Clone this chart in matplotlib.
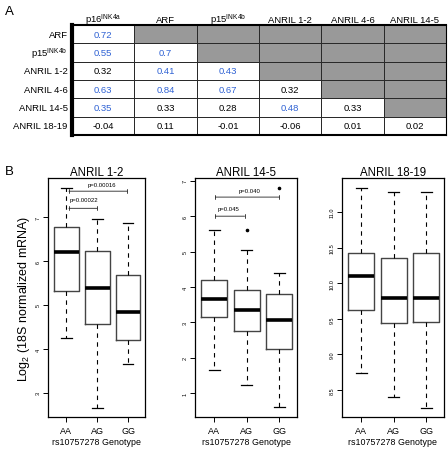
import matplotlib
matplotlib.use("Agg")
import matplotlib.pyplot as plt
import numpy as np
from matplotlib.colors import ListedColormap

plt.rcParams['font.family'] = ['Liberation Sans', 'DejaVu Sans']
plt.rcParams['mathtext.fontset'] = 'custom'
plt.rcParams['mathtext.rm'] = 'Liberation Sans'
plt.rcParams['mathtext.it'] = 'Liberation Sans'

# ---------------- Panel A data ----------------
col_labels = [r'p16$^{\mathrm{INK4a}}$', 'ARF', r'p15$^{\mathrm{INK4b}}$',
              'ANRIL 1-2', 'ANRIL 4-6', 'ANRIL 14-5']
row_labels = ['ARF', r'p15$^{\mathrm{INK4b}}$', 'ANRIL 1-2', 'ANRIL 4-6',
              'ANRIL 14-5', 'ANRIL 18-19']
corr_values = [
    ['0.72'],
    ['0.55', '0.7'],
    ['0.32', '0.41', '0.43'],
    ['0.63', '0.84', '0.67', '0.32'],
    ['0.35', '0.33', '0.28', '0.48', '0.33'],
    ['-0.04', '0.11', '-0.01', '-0.06', '0.01', '0.02'],
]
significant = [
    [1],
    [1, 1],
    [0, 1, 1],
    [1, 1, 1, 0],
    [1, 0, 0, 1, 0],
    [0, 0, 0, 0, 0, 0],
]

# ---------------- Panel B data ----------------
genotypes = ['AA', 'AG', 'GG']
panel_titles = ['ANRIL 1-2', 'ANRIL 14-5', 'ANRIL 18-19']
whis_hi = [[7.66, 6.95, 6.86], [5.60, 5.04, 4.38], [11.34, 11.28, 11.28]]
q3_vals = [[6.77, 6.23, 5.68], [4.20, 3.90, 3.80], [10.43, 10.35, 10.43]]
medians = [[6.20, 5.39, 4.84], [3.66, 3.36, 3.07], [10.10, 9.80, 9.80]]
q1_vals = [[5.32, 4.57, 4.20], [3.15, 2.76, 2.23], [9.63, 9.44, 9.45]]
whis_lo = [[4.25, 2.66, 3.66], [1.66, 1.23, 0.60], [8.74, 8.40, 8.24]]
outliers = [[[], [], []], [[], [5.60], [6.80]], [[], [], []]]
y_limits = [(2.45, 7.89), (0.32, 7.08), (8.12, 11.48)]
y_ticks = [[3, 4, 5, 6, 7], [1, 2, 3, 4, 5, 6, 7], [8.5, 9.0, 9.5, 10.0, 10.5, 11.0]]
y_ticklabels = [['3', '4', '5', '6', '7'], ['1', '2', '3', '4', '5', '6', '7'],
                ['8.5', '9.0', '9.5', '10.0', '10.5', '11.0']]
# brackets: (x_start, x_end, y, label, label_x, label_y)
brackets = [
    [(1.08, 2.97, 7.59, 'p=0.00016', 2.14, 7.75), (1.08, 2.0, 7.20, 'p=0.00022', 1.57, 7.39)],
    [(1.03, 3.0, 6.54, 'p=0.040', 2.1, 6.73), (1.03, 1.93, 6.00, 'p=0.045', 1.42, 6.23)],
    [],
]

W, H = 448, 452
fig = plt.figure(figsize=(W / 100, H / 100), dpi=100)

def fx(px):
    return px / W

def fy(py):
    return 1 - py / H

# ---------------- Panel A ----------------
tl, tr, tt, tb = 72, 446, 26, 136
axA = fig.add_axes([fx(tl), fy(tb), fx(tr - tl), (tb - tt) / H])
n = len(col_labels)
mask = np.array([[0 if j <= i else 1 for j in range(n)] for i in range(n)])
axA.pcolormesh(np.arange(n + 1), np.arange(n + 1), mask,
               cmap=ListedColormap(['white', '#999999']), vmin=0, vmax=1,
               edgecolors='#2a2a2a', linewidth=0.7)
axA.set_xlim(0, n)
axA.set_ylim(n, 0)
axA.set_xticks([])
axA.set_yticks([])
for side in ['top', 'bottom']:
    axA.spines[side].set_linewidth(1.5)
axA.spines['left'].set_linewidth(3.0)
axA.spines['right'].set_linewidth(0.8)
for i, row in enumerate(corr_values):
    for j, v in enumerate(row):
        c = '#2f62d4' if significant[i][j] else 'black'
        axA.text(j + 0.5, i + 0.5, v, ha='center', va='center', fontsize=6.8, color=c)
for j, lab in enumerate(col_labels):
    axA.text(j + 0.5, -0.16, lab, ha='center', va='baseline', fontsize=6.8, clip_on=False)
for i, lab in enumerate(row_labels):
    axA.text(-0.07, i + 0.5, lab, ha='right', va='center', fontsize=6.8, clip_on=False)

fig.text(fx(5), fy(12), 'A', fontsize=9.5, va='center', ha='left')
fig.text(fx(5), fy(172), 'B', fontsize=9.5, va='center', ha='left')

# ---------------- Panel B ----------------
panel_x = [(48, 145), (195, 297), (342, 444)]
pt, pb = 179, 418
for k in range(3):
    x0, x1 = panel_x[k]
    ax = fig.add_axes([fx(x0), fy(pb), fx(x1 - x0), (pb - pt) / H])
    stats = []
    for g in range(3):
        stats.append(dict(med=medians[k][g], q1=q1_vals[k][g], q3=q3_vals[k][g],
                          whislo=whis_lo[k][g], whishi=whis_hi[k][g],
                          fliers=outliers[k][g], label=genotypes[g]))
    ax.bxp(stats, positions=[1, 2, 3], widths=0.8, capwidths=0.35,
           boxprops=dict(color='#444444', linewidth=1.0),
           medianprops=dict(color='black', linewidth=2.6, solid_capstyle='butt'),
           whiskerprops=dict(color='black', linewidth=0.8, linestyle=(0, (4, 4))),
           capprops=dict(color='black', linewidth=0.9),
           flierprops=dict(marker='o', markersize=1.6, markerfacecolor='black',
                           markeredgecolor='black'))
    ax.set_xlim(0.4, 3.55)
    ax.set_ylim(*y_limits[k])
    ax.set_yticks(y_ticks[k])
    ax.set_yticklabels(y_ticklabels[k], rotation=90, va='center', fontsize=4)
    ax.set_xticks([1, 2, 3])
    ax.set_xticklabels(genotypes, fontsize=6.5)
    ax.tick_params(axis='y', length=3.5, width=0.7, pad=1.5)
    ax.tick_params(axis='x', length=3.5, width=0.7, pad=3)
    for s in ax.spines.values():
        s.set_linewidth(0.9)
    ax.set_title(panel_titles[k], fontsize=8.3, pad=1.5)
    ax.set_xlabel('rs10757278 Genotype', fontsize=6.4, labelpad=1.5)
    for (xa, xb, yb, lab, lx, ly) in brackets[k]:
        ax.annotate('', xy=(xb, yb), xytext=(xa, yb),
                    arrowprops=dict(arrowstyle='|-|, widthA=0.15, widthB=0.15',
                                    color='#222222', lw=0.6, shrinkA=0, shrinkB=0))
        ax.text(lx, ly, lab, ha='center', va='center', fontsize=4.3)
    if k == 0:
        ax.set_ylabel(r'Log$_2$ (18S normalized mRNA)', fontsize=9, labelpad=3)

fig.savefig('out.png', dpi=100)
